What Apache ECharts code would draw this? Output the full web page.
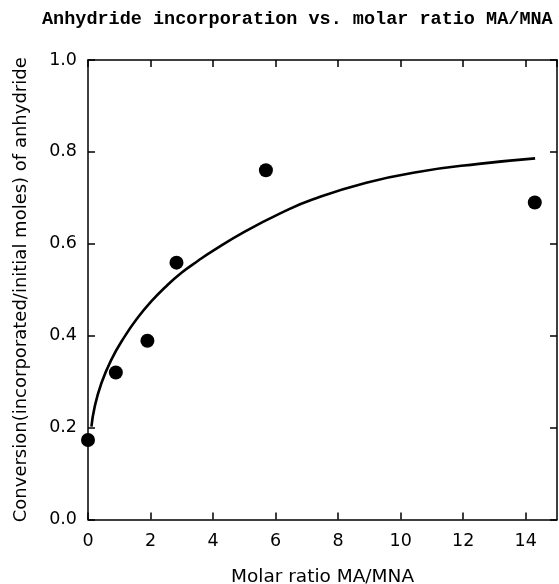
<!DOCTYPE html>
<html>
<head>
<meta charset="utf-8">
<script src="https://cdn.jsdelivr.net/npm/echarts@6/dist/echarts.min.js"></script>
<style>html,body{margin:0;padding:0;background:#fff;}#c{width:559px;height:584px;}</style>
</head>
<body>
<div id="c"></div>
<script>
// Measured data points (molar ratio MA/MNA, conversion)
const pointX = [0, 0.89, 1.9, 2.83, 5.69, 14.29];
const pointY = [0.173, 0.32, 0.389, 0.559, 0.76, 0.69];
// Fitted curve
const curveX = [0.11, 0.21, 0.42, 0.74, 1.17, 1.6, 2.03, 2.46, 2.99, 3.52, 3.98, 5.0, 6.2, 7.2, 8.9, 10.6, 12.5, 14.3];
const curveY = [0.202, 0.244, 0.295, 0.347, 0.398, 0.44, 0.475, 0.505, 0.537, 0.563, 0.584, 0.626, 0.668, 0.697, 0.733, 0.757, 0.774, 0.786];
const xTicks = [0, 2, 4, 6, 8, 10, 12, 14];
const yTicks = [0.0, 0.2, 0.4, 0.6, 0.8, 1.0];

const chart = echarts.init(document.getElementById('c'));
const axisFont = {fontFamily: 'DejaVu Sans', fontSize: 17.5, color: '#000'};
const lineSt = {color: '#000', width: 1.5};
chart.setOption({
  animation: false,
  backgroundColor: '#fff',
  title: {
    text: 'Anhydride incorporation vs. molar ratio MA/MNA',
    left: 42, top: 10, padding: 0,
    textStyle: {fontFamily: 'Liberation Mono', fontSize: 18.5, fontWeight: 'bold', color: '#000'}
  },
  grid: {left: 88, right: 2, top: 60, bottom: 64.5, containLabel: false, outerBoundsMode: 'none'},
  xAxis: [{
    type: 'value', min: 0, max: 15, interval: 2,
    name: 'Molar ratio MA/MNA', nameLocation: 'middle', nameGap: 48,
    nameTextStyle: {fontFamily: 'DejaVu Sans', fontSize: 18.5, color: '#000'},
    axisLine: {show: true, onZero: false, lineStyle: lineSt},
    axisTick: {show: true, inside: true, length: 7, lineStyle: lineSt},
    axisLabel: Object.assign({margin: 13, showMaxLabel: false,
      formatter: v => xTicks.includes(v) ? String(v) : ''}, axisFont),
    splitLine: {show: false}
  }, {
    type: 'value', min: 0, max: 15, interval: 2, position: 'top',
    axisLine: {show: true, onZero: false, lineStyle: lineSt},
    axisTick: {show: true, inside: true, length: 7, lineStyle: lineSt},
    axisLabel: {show: false}, splitLine: {show: false}
  }],
  yAxis: [{
    type: 'value', min: 0, max: 1, interval: 0.2,
    name: 'Conversion(incorporated/initial moles) of anhydride', nameLocation: 'middle', nameGap: 58,
    nameTextStyle: {fontFamily: 'DejaVu Sans', fontSize: 18, color: '#000'},
    axisLine: {show: true, onZero: false, lineStyle: lineSt},
    axisTick: {show: true, inside: true, length: 7, lineStyle: lineSt},
    axisLabel: Object.assign({margin: 11, formatter: v => yTicks.some(t => Math.abs(t - v) < 1e-9) ? v.toFixed(1) : ''}, axisFont),
    splitLine: {show: false}
  }, {
    type: 'value', min: 0, max: 1, interval: 0.2, position: 'right',
    axisLine: {show: true, onZero: false, lineStyle: lineSt},
    axisTick: {show: true, inside: true, length: 7, lineStyle: lineSt},
    axisLabel: {show: false}, splitLine: {show: false}
  }],
  series: [{
    type: 'line', smooth: 0.5, symbol: 'none',
    data: curveX.map((x, i) => [x, curveY[i]]),
    lineStyle: {color: '#000', width: 2.6}
  }, {
    type: 'scatter', symbol: 'circle', symbolSize: 14,
    data: pointX.map((x, i) => [x, pointY[i]]),
    itemStyle: {color: '#000', opacity: 1}, clip: false
  }]
});
</script>
</body>
</html>
